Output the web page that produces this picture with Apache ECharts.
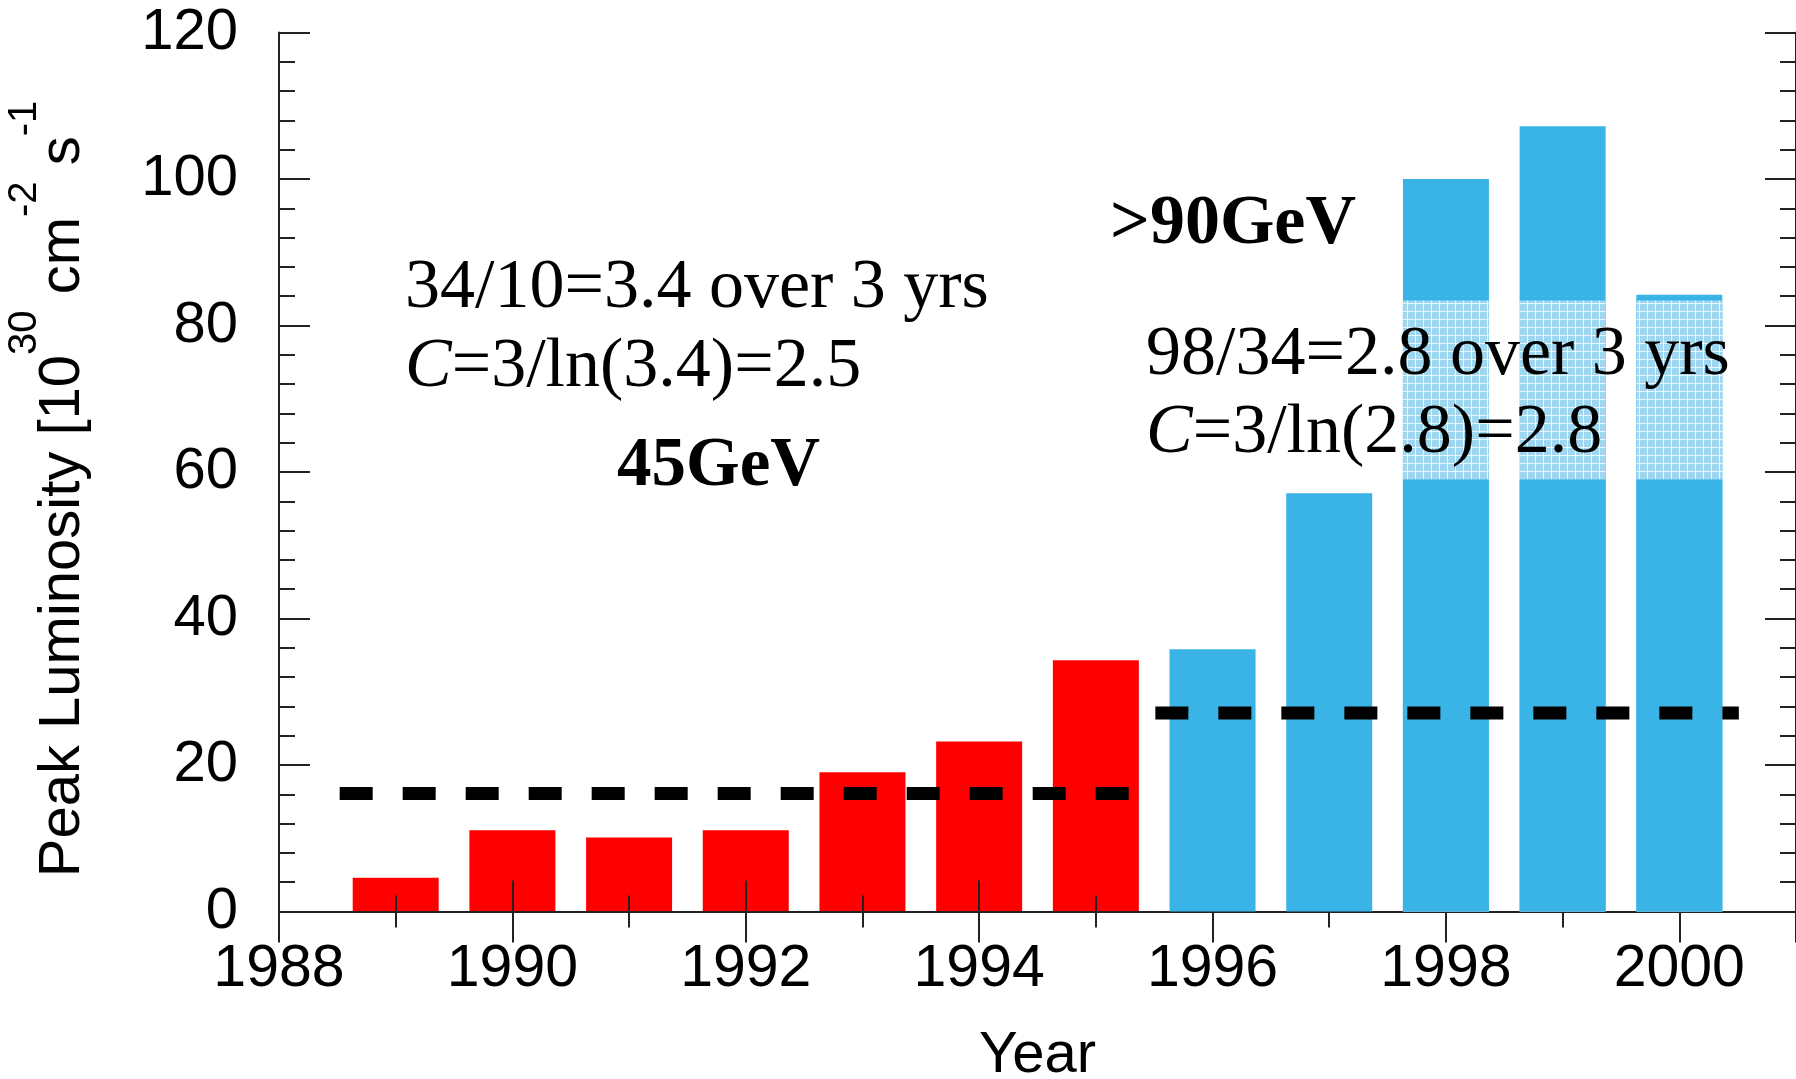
<!DOCTYPE html>
<html lang="en">

<head>
    <meta charset="UTF-8">
    <title>Peak Luminosity</title>
    <style>
        * {
            margin: 0;
            padding: 0;
        }

        html,
        body,
        #chart {
            width: 1796px;
            height: 1079px;
            overflow: hidden;
            background: #fff;
        }
    </style>
</head>

<body>
    <div id="chart"></div>
    <script src="https://cdn.jsdelivr.net/npm/echarts@6/dist/echarts.min.js"></script>
    <script>
        // 45 GeV running (red) and >90 GeV running (blue)
        const lep1Years = [1989, 1990, 1991, 1992, 1993, 1994, 1995];
        const lep1Peak = [4.6, 11.1, 10.1, 11.1, 19.0, 23.2, 34.3];
        const lep2Years = [1996, 1997, 1998, 1999, 2000];
        const lep2Peak = [35.8, 57.1, 100.0, 107.2, 84.2];

        // hatched band drawn on the last three bars
        const hatchYears = [1998, 1999, 2000];
        const hatchBottom = [59.0, 59.0, 59.0];
        const hatchTop = [83.4, 83.4, 83.4];

        // dashed average lines
        const avg1X = [1988.52, 1995.36];
        const avg1Y = 16.1;
        const avg2X = [1995.51, 2000.51];
        const avg2Y = 27.1;

        const yTicks = [0, 20, 40, 60, 80, 100, 120];
        const xTicks = [1988, 1990, 1992, 1994, 1996, 1998, 2000];

        const axisColor = '#222';
        const blue = '#3ab3e7';
        const sans = '"Liberation Sans", Arial, sans-serif';
        const serif = '"Liberation Serif", "Times New Roman", serif';

        function hatchPattern() {
            let c = document.createElement('canvas');
            c.width = 8;
            c.height = 8;
            let g = c.getContext('2d');
            g.fillStyle = '#9fd7f1';
            g.fillRect(0, 0, 8, 8);
            g.fillStyle = 'rgba(255,255,255,0.75)';
            g.fillRect(7, 0, 1, 8);
            g.fillRect(0, 7, 8, 1);
            return c;
        }

        function pairs(xs, ys) {
            return xs.map((x, i) => [x, ys[i]]);
        }

        function frameAxis(pos, isX) {
            let a = {
                type: 'value',
                position: pos,
                min: isX ? xTicks[0] : yTicks[0],
                max: isX ? 2001 : yTicks[yTicks.length - 1],
                interval: isX ? 2 : 20,
                z: 5,
                axisLine: { show: true, lineStyle: { color: axisColor, width: 2 } },
                axisTick: { show: true, inside: true, length: 31, lineStyle: { color: axisColor, width: 2 } },
                minorTick: { show: true, splitNumber: isX ? 2 : 5, length: 16, lineStyle: { color: axisColor, width: 2 } },
                splitLine: { show: false },
                minorSplitLine: { show: false },
                axisLabel: { show: false }
            };
            return a;
        }

        let xBottom = frameAxis('bottom', true);
        xBottom.axisLabel = {
            show: true,
            fontSize: 59,
            fontFamily: sans,
            color: '#000',
            margin: 29,
            showMaxLabel: false,
            formatter: v => String(v)
        };
        xBottom.name = 'Year';
        xBottom.nameLocation = 'middle';
        xBottom.nameGap = 115;
        xBottom.nameTextStyle = { fontSize: 58, fontFamily: sans, color: '#000' };

        let yLeft = frameAxis('left', false);
        yLeft.axisLabel = {
            show: true,
            fontSize: 58,
            fontFamily: sans,
            color: '#000',
            margin: 41
        };
        yLeft.name = '{n|Peak Luminosity [10}{s|30}{n| cm}{s|-2}{n| s}{s|-1}';
        yLeft.nameLocation = 'middle';
        yLeft.nameGap = 158;
        yLeft.nameMoveOverlap = false;
        yLeft.nameTextStyle = {
            color: '#000',
            padding: [0, 34, 0, 0],
            rich: {
                n: { fontSize: 58, fontFamily: sans, color: '#000', lineHeight: 116 },
                s: { fontSize: 40, fontFamily: sans, color: '#000', lineHeight: 42, verticalAlign: 'top' }
            }
        };

        let chart = echarts.init(document.getElementById('chart'));

        let option = {
            animation: false,
            backgroundColor: '#fff',
            grid: {
                left: 279,
                right: 0,
                top: 32.5,
                bottom: 167.5,
                containLabel: false,
                outerBoundsMode: 'none'
            },
            xAxis: [xBottom, frameAxis('top', true)],
            yAxis: [yLeft, frameAxis('right', false)],
            series: [{
                name: '45GeV',
                type: 'bar',
                barWidth: 86,
                barGap: '-100%',
                z: 2,
                itemStyle: { color: '#ff0000' },
                data: pairs(lep1Years, lep1Peak)
            }, {
                name: '>90GeV',
                type: 'bar',
                barWidth: 86,
                barGap: '-100%',
                z: 6,
                itemStyle: { color: blue },
                data: pairs(lep2Years, lep2Peak)
            }, {
                // hatched part, drawn up to its top ...
                name: 'hatch',
                type: 'bar',
                barWidth: 86,
                barGap: '-100%',
                z: 7,
                silent: true,
                itemStyle: { color: { image: hatchPattern(), repeat: 'repeat' } },
                data: pairs(hatchYears, hatchTop)
            }, {
                // ... and covered again in solid blue below its bottom
                name: 'hatchBelow',
                type: 'bar',
                barWidth: 86,
                barGap: '-100%',
                z: 8,
                silent: true,
                itemStyle: { color: blue },
                data: pairs(hatchYears, hatchBottom)
            }, {
                name: 'avg1',
                type: 'line',
                symbol: 'none',
                z: 10,
                lineStyle: { color: '#000', width: 13, type: [33, 30], cap: 'butt' },
                data: avg1X.map(x => [x, avg1Y])
            }, {
                name: 'avg2',
                type: 'line',
                symbol: 'none',
                z: 10,
                lineStyle: { color: '#000', width: 13, type: [33, 30], cap: 'butt' },
                data: avg2X.map(x => [x, avg2Y])
            }],
            graphic: [{
                type: 'text', left: 405, top: 254, z: 20,
                style: { text: '34/10=3.4 over 3 yrs', font: '70px ' + serif, fill: '#000' }
            }, {
                type: 'text', left: 405, top: 333, z: 20,
                style: {
                    text: '{i|C}{r|=3/ln(3.4)=2.5}',
                    rich: {
                        i: { fontSize: 70, fontFamily: serif, fontStyle: 'italic', fill: '#000' },
                        r: { fontSize: 70, fontFamily: serif, fill: '#000' }
                    }
                }
            }, {
                type: 'text', left: 617, top: 433, z: 20,
                style: { text: '45GeV', font: 'bold 69px ' + serif, fill: '#000' }
            }, {
                type: 'text', left: 1110, top: 190, z: 20,
                style: { text: '>90GeV', font: 'bold 70px ' + serif, fill: '#000' }
            }, {
                type: 'text', left: 1146, top: 321, z: 20,
                style: { text: '98/34=2.8 over 3 yrs', font: '70px ' + serif, fill: '#000' }
            }, {
                type: 'text', left: 1146, top: 399, z: 20,
                style: {
                    text: '{i|C}{r|=3/ln(2.8)=2.8}',
                    rich: {
                        i: { fontSize: 70, fontFamily: serif, fontStyle: 'italic', fill: '#000' },
                        r: { fontSize: 70, fontFamily: serif, fill: '#000' }
                    }
                }
            }]
        };

        chart.setOption(option);
    </script>
</body>

</html>
